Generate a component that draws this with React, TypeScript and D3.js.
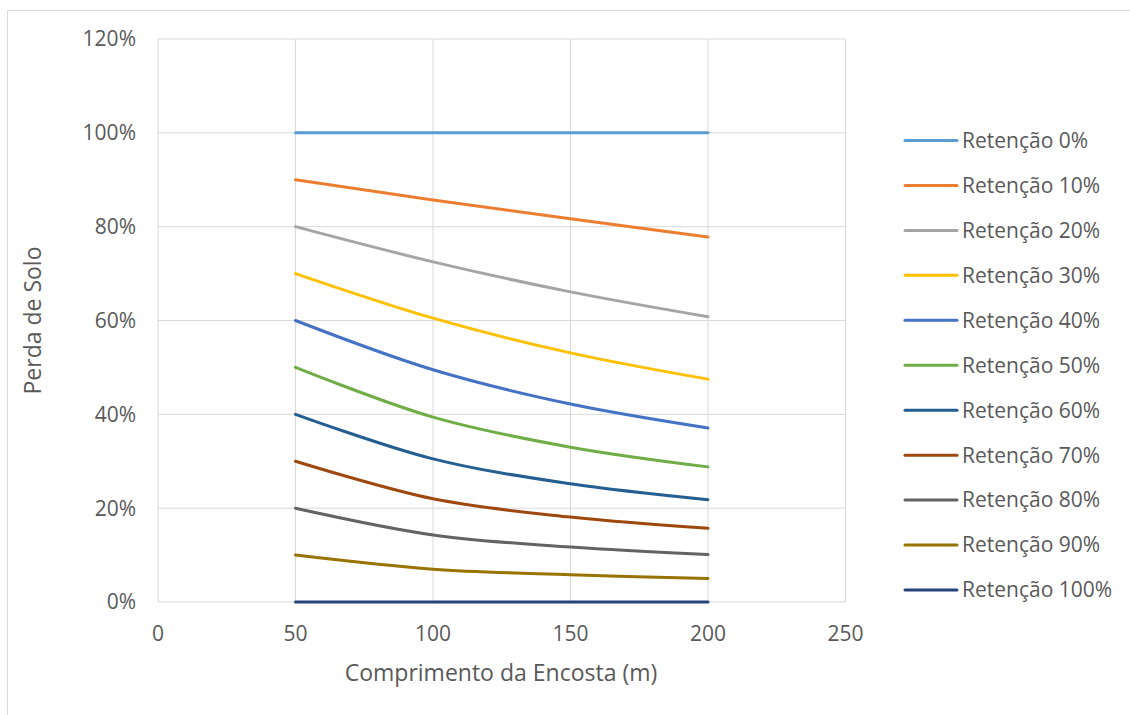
import React from "react";
import * as d3 from "d3";

const lengths = [50, 100, 150, 200];
const seriesNames = [
  "Retenção 0%", "Retenção 10%", "Retenção 20%", "Retenção 30%", "Retenção 40%",
  "Retenção 50%", "Retenção 60%", "Retenção 70%", "Retenção 80%", "Retenção 90%", "Retenção 100%",
];
const ret0 = [1.0, 1.0, 1.0, 1.0];
const ret10 = [0.9, 0.857, 0.817, 0.778];
const ret20 = [0.8, 0.725, 0.661, 0.608];
const ret30 = [0.7, 0.605, 0.531, 0.475];
const ret40 = [0.6, 0.495, 0.422, 0.371];
const ret50 = [0.5, 0.394, 0.33, 0.288];
const ret60 = [0.4, 0.305, 0.252, 0.218];
const ret70 = [0.3, 0.22, 0.181, 0.157];
const ret80 = [0.2, 0.143, 0.117, 0.101];
const ret90 = [0.1, 0.07, 0.058, 0.05];
const ret100 = [0, 0, 0, 0];
const seriesValues = [ret0, ret10, ret20, ret30, ret40, ret50, ret60, ret70, ret80, ret90, ret100];
const colors = [
  "#5B9BD5", "#ED7D31", "#A5A5A5", "#FFC000", "#4472C4",
  "#70AD47", "#255E91", "#9E480E", "#636363", "#997300", "#264478",
];
const xTicks = [0, 50, 100, 150, 200, 250];
const yTicks = [0, 0.2, 0.4, 0.6, 0.8, 1.0, 1.2];

export default function App() {
  const W = 1130, H = 715;
  const left = 158, right = 845.5, top = 39, bottom = 602;
  const x = d3.scaleLinear().domain([0, 250]).range([left, right]);
  const y = d3.scaleLinear().domain([0, 1.2]).range([bottom, top]);
  const line = d3
    .line<number>()
    .x((_, i) => x(lengths[i]))
    .y((d) => y(d))
    .curve(d3.curveCatmullRom.alpha(0.5));
  const font = "'Open Sans', sans-serif";
  const txt = "#595959";
  const grid = "#d9d9d9";
  const fs = 21;
  return (
    <svg
      width={W}
      height={H}
      style={{ position: "absolute", left: 0, top: 0, background: "#fff" }}
      fontFamily={font}
    >
      <rect x={7.5} y={10.5} width={1130} height={710} fill="#fff" stroke={grid} />
      {yTicks.map((t) => (
        <g key={"y" + t}>
          <line x1={left} x2={right} y1={y(t)} y2={y(t)} stroke={grid} strokeWidth={1} />
          <text x={136} y={y(t)} dy="0.35em" textAnchor="end" fontSize={fs} fill={txt}>
            {d3.format(".0%")(t)}
          </text>
        </g>
      ))}
      {xTicks.map((t) => (
        <g key={"x" + t}>
          <line x1={x(t)} x2={x(t)} y1={top} y2={bottom} stroke={grid} strokeWidth={1} />
          <text x={x(t)} y={634} dy="0.35em" textAnchor="middle" fontSize={fs} fill={txt}>
            {t}
          </text>
        </g>
      ))}
      {seriesValues.map((vals, i) => (
        <path
          key={"s" + i}
          d={line(vals) || ""}
          fill="none"
          stroke={colors[i]}
          strokeWidth={3}
          strokeLinecap="round"
        />
      ))}
      <text x={501} y={673} dy="0.35em" textAnchor="middle" fontSize={23} fill={txt}>
        Comprimento da Encosta (m)
      </text>
      <text
        transform={`translate(33, ${(top + bottom) / 2}) rotate(-90)`}
        dy="0.35em"
        textAnchor="middle"
        fontSize={23}
        fill={txt}
      >
        Perda de Solo
      </text>
      {seriesNames.map((n, i) => {
        const ly = 140.5 + i * 44.95;
        return (
          <g key={"l" + i}>
            <line x1={905} x2={957} y1={ly} y2={ly} stroke={colors[i]} strokeWidth={3} strokeLinecap="round" />
            <text x={962} y={ly} dy="0.35em" fontSize={fs} fill={txt}>
              {n}
            </text>
          </g>
        );
      })}
    </svg>
  );
}
